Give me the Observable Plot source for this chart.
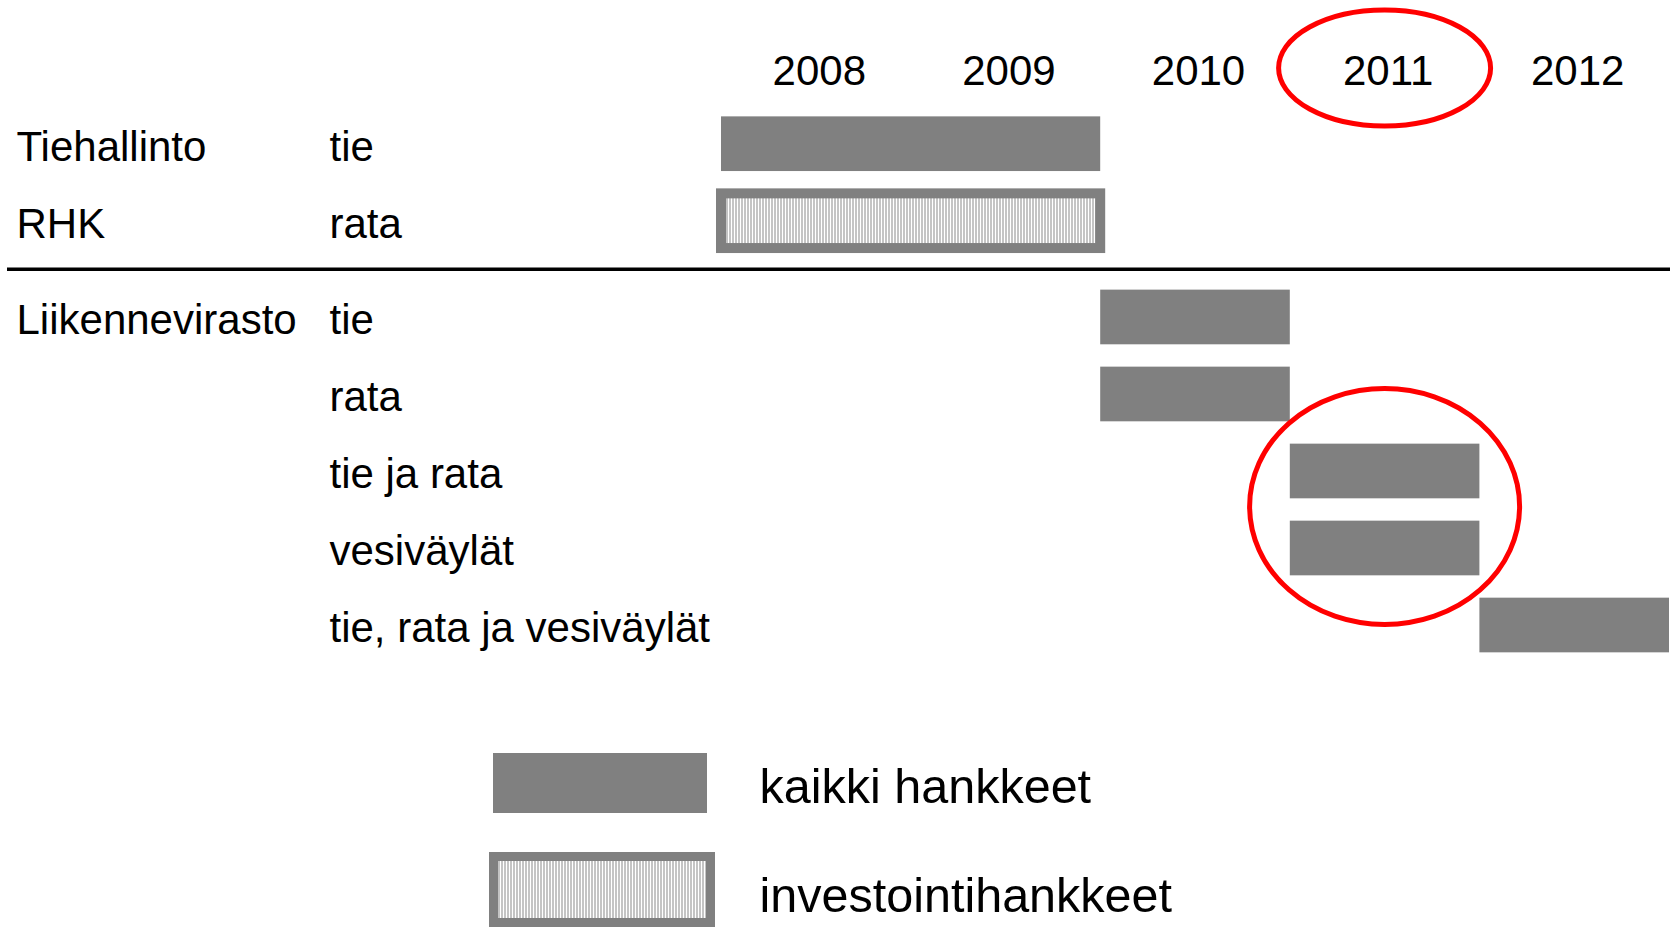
<!DOCTYPE html>
<html><head><meta charset="utf-8">
<script src="https://cdn.jsdelivr.net/npm/d3@7"></script>
<script src="https://cdn.jsdelivr.net/npm/@observablehq/plot@0.6"></script>
<style>
html,body{margin:0;padding:0;background:#fff;overflow:hidden;}
body{width:1675px;height:927px;font-family:"Liberation Sans",Arial,sans-serif;}
#chart svg{display:block;}
#legend{position:relative;width:1675px;height:237px;}
.sw{position:absolute;box-sizing:border-box;}
.lt{position:absolute;font-size:48.5px;line-height:48px;color:#000;white-space:nowrap;}
</style></head><body>
<div id="chart"></div>
<div id="legend"></div>
<script>
// ---- data ----
const years = [2008, 2009, 2010, 2011, 2012];
const organisations = ["Tiehallinto", "RHK", "Liikennevirasto", "", "", "", ""];
const modes = ["tie", "rata", "tie", "rata", "tie ja rata", "vesiväylät", "tie, rata ja vesiväylät"];
const startYear = [2008, 2008, 2010, 2010, 2011, 2011, 2012];
const endYear = [2010, 2010, 2011, 2011, 2012, 2012, 2013];
const projectType = ["kaikki hankkeet", "investointihankkeet", "kaikki hankkeet", "kaikki hankkeet", "kaikki hankkeet", "kaikki hankkeet", "kaikki hankkeet"];
const groupIndex = [0, 0, 1, 1, 1, 1, 1];
const legendLabels = ["kaikki hankkeet", "investointihankkeet"];
const highlightYear = 2011;
const highlightRows = [4, 5];

// ---- layout constants ----
const groupGap = 0.25;
const barHalf = 0.355;
const gray = "#808080";

const rows = modes.map((m, i) => ({
  org: organisations[i], mode: m, start: startYear[i], end: endYear[i],
  type: projectType[i], pos: i + groupIndex[i] * groupGap
}));
const sepPos = (rows[1].pos + rows[2].pos) / 2;
const font = 42;

const plot = Plot.plot({
  width: 1675, height: 690,
  marginLeft: 7, marginRight: 5, marginTop: 0, marginBottom: 0,
  style: {fontFamily: '"Liberation Sans", Arial, sans-serif', color: "#000", background: "#fff"},
  x: {domain: [2008, 2013], range: [721, 1669], axis: null},
  y: {domain: [0, 6.25], range: [143.7, 625], axis: null},
  marks: [
    Plot.rect(rows.filter(d => d.type === legendLabels[0]), {
      x1: "start", x2: "end", y1: d => d.pos - barHalf, y2: d => d.pos + barHalf, fill: gray
    }),
    Plot.rect(rows.filter(d => d.type === legendLabels[1]), {
      x1: "start", x2: "end", y1: d => d.pos - barHalf, y2: d => d.pos + barHalf,
      fill: "url(#hatch)", stroke: gray, strokeWidth: 10
    }),
    Plot.ruleY([sepPos], {stroke: "#000", strokeWidth: 3.5}),
    Plot.text(years, {x: d => d + 0.5, text: d => String(d), frameAnchor: "top", dy: 71, dx: 3,
      lineAnchor: "middle", fontSize: font, fill: "#000"}),
    Plot.text(rows, {y: "pos", text: "org", frameAnchor: "left", dx: 9, dy: 3, textAnchor: "start",
      lineAnchor: "middle", fontSize: font, fill: "#000"}),
    Plot.text(rows, {y: "pos", text: "mode", frameAnchor: "left", dx: 322, dy: 3, textAnchor: "start",
      lineAnchor: "middle", fontSize: font, fill: "#000"})
  ]
});
document.getElementById("chart").append(plot);

// hatch pattern
const svg = d3.select(plot);
const defs = svg.insert("defs", ":first-child");
const pat = defs.append("pattern").attr("id", "hatch").attr("patternUnits", "userSpaceOnUse")
  .attr("width", 3).attr("height", 10);
pat.append("rect").attr("width", 3).attr("height", 10).attr("fill", "#fff");
pat.append("rect").attr("width", 2).attr("height", 10).attr("fill", "#c4c4c4");

// highlight ellipses using plot scales
const xs = plot.scale("x"), ys = plot.scale("y");
const cx = xs.apply(highlightYear + 0.5);
svg.append("ellipse").attr("cx", cx).attr("cy", 68).attr("rx", 106).attr("ry", 58)
  .attr("fill", "none").attr("stroke", "#ff0000").attr("stroke-width", 5);
const cy2 = (ys.apply(rows[highlightRows[0]].pos) + ys.apply(rows[highlightRows[1]].pos)) / 2 - 3;
svg.append("ellipse").attr("cx", cx).attr("cy", cy2).attr("rx", 135).attr("ry", 118)
  .attr("fill", "none").attr("stroke", "#ff0000").attr("stroke-width", 5);

// legend
const legend = document.getElementById("legend");
legend.innerHTML = `
  <div class="sw" style="left:492.5px;top:63px;width:214.5px;height:60px;background:${gray};"></div>
  <div class="lt" style="left:759.5px;top:71.5px;">${legendLabels[0]}</div>
  <div class="sw" style="left:489px;top:162px;width:226px;height:75px;border:9.5px solid ${gray};
     background:repeating-linear-gradient(90deg,#c4c4c4 0px,#c4c4c4 2px,#fff 2px,#fff 3px);"></div>
  <div class="lt" style="left:759.5px;top:180.5px;">${legendLabels[1]}</div>
`;
</script>
</body></html>
